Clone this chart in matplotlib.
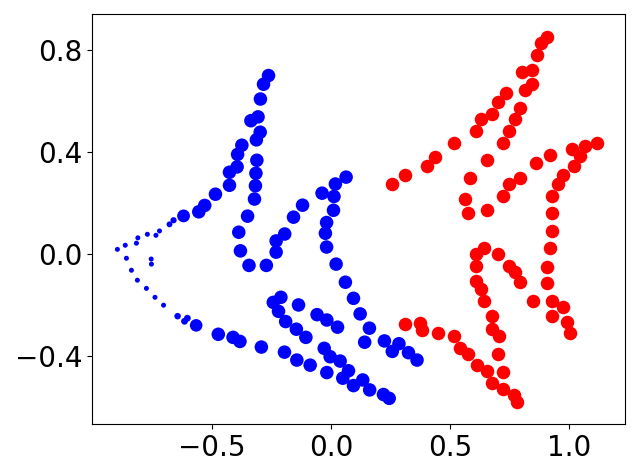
import numpy as np
import matplotlib
matplotlib.use("Agg")
import matplotlib.pyplot as plt

# blue cloud (x, y) and marker size per point
blue_x = [-0.897, -0.864, -0.817, -0.811, -0.771, -0.735, -0.720, -0.678, -0.661,
          -0.859, -0.755, -0.754, -0.838, -0.813, -0.775, -0.739, -0.703,
          -0.644, -0.615, -0.603,
          -0.619, -0.555, -0.530, -0.485, -0.426, -0.426, -0.394, -0.392, -0.374,
          -0.336, -0.306, -0.313, -0.297, -0.296, -0.283, -0.262,
          -0.311, -0.315, -0.317, -0.321, -0.350, -0.387, -0.380, -0.344, -0.271,
          -0.230, -0.230, -0.194, -0.157, -0.119,
          0.064, 0.019, -0.037, 0.013, 0.011, -0.018, -0.023, -0.018, 0.022, 0.061,
          0.095, 0.123, 0.162, 0.142, 0.225, 0.258, 0.286, 0.326, 0.362,
          -0.566, -0.473, -0.411, -0.382, -0.292, -0.195, -0.143, -0.087, -0.017,
          0.050, 0.095, 0.134, 0.163, 0.221, 0.245, 0.074, 0.039, -0.003, -0.028,
          -0.210, -0.242, -0.220, -0.190, -0.136, -0.145, -0.105, -0.058, -0.017, 0.028]
blue_y = [0.018, 0.034, 0.042, 0.063, 0.077, 0.073, 0.090, 0.116, 0.132,
          -0.017, -0.020, -0.040, -0.064, -0.103, -0.135, -0.170, -0.201,
          -0.244, -0.264, -0.252,
          0.149, 0.165, 0.190, 0.234, 0.269, 0.320, 0.341, 0.390, 0.426,
          0.522, 0.537, 0.447, 0.477, 0.607, 0.665, 0.699,
          0.367, 0.316, 0.267, 0.215, 0.148, 0.085, 0.012, -0.045, -0.045,
          0.007, 0.051, 0.078, 0.144, 0.191,
          0.301, 0.274, 0.238, 0.225, 0.171, 0.123, 0.081, 0.027, -0.040, -0.111,
          -0.174, -0.235, -0.291, -0.346, -0.341, -0.382, -0.352, -0.387, -0.416,
          -0.280, -0.315, -0.327, -0.343, -0.365, -0.385, -0.416, -0.436, -0.465,
          -0.487, -0.516, -0.494, -0.533, -0.551, -0.566, -0.458, -0.420, -0.403, -0.370,
          -0.170, -0.190, -0.225, -0.265, -0.200, -0.295, -0.327, -0.238, -0.259, -0.287]
blue_s = [13] * 17 + [22, 24, 24] + [85] + [95] * 48 + [82] + [95] * 28
blue_s[7] = 18
blue_s[8] = 20

# red cloud
red_x = [0.256, 0.312, 0.405, 0.439, 0.519, 0.611, 0.632, 0.679, 0.704, 0.737,
         0.725, 0.750, 0.773, 0.795, 0.816, 0.845, 0.804, 0.845, 0.864, 0.882, 0.908,
         0.658, 0.585, 0.564, 0.578, 0.658, 0.725, 0.750, 0.795, 0.863, 0.921,
         1.014, 1.068, 1.118, 1.047, 1.022, 0.977, 0.956, 0.931, 0.931, 0.931,
         0.921, 0.910, 0.910, 0.931, 0.977, 0.931, 0.992, 1.003, 0.851,
         0.645, 0.611, 0.702, 0.611, 0.749, 0.774, 0.795, 0.611, 0.632, 0.644,
         0.679, 0.676, 0.707, 0.704, 0.725, 0.657, 0.613, 0.578, 0.543, 0.519,
         0.452, 0.382, 0.373, 0.312, 0.676, 0.725, 0.771, 0.784]
red_y = [0.274, 0.310, 0.345, 0.378, 0.434, 0.482, 0.529, 0.548, 0.596, 0.631,
         0.434, 0.482, 0.528, 0.573, 0.643, 0.667, 0.711, 0.722, 0.779, 0.826, 0.852,
         0.369, 0.297, 0.216, 0.161, 0.173, 0.227, 0.275, 0.297, 0.356, 0.388,
         0.412, 0.424, 0.434, 0.384, 0.346, 0.310, 0.275, 0.227, 0.161, 0.090,
         0.022, -0.050, -0.115, -0.183, -0.209, -0.243, -0.268, -0.311, -0.184,
         0.025, 0.000, 0.000, -0.047, -0.047, -0.069, -0.109, -0.105, -0.137, -0.184,
         -0.242, -0.295, -0.322, -0.392, -0.462, -0.459, -0.435, -0.392, -0.367, -0.322,
         -0.310, -0.300, -0.272, -0.275, -0.507, -0.531, -0.553, -0.579]

x_ticks = [-0.5, 0.0, 0.5, 1.0]
y_ticks = [-0.4, 0.0, 0.4, 0.8]

fig = plt.figure(figsize=(6.4, 4.76), dpi=100)
ax = fig.add_subplot(111)
fig.subplots_adjust(left=0.144, right=0.977, bottom=0.109, top=0.971)

ax.scatter(blue_x, blue_y, s=blue_s, c="b", linewidths=0)
ax.scatter(red_x, red_y, s=95, c="r", linewidths=0)

ax.set_xlim(-1.003, 1.237)
ax.set_ylim(-0.667, 0.941)
ax.set_xticks(x_ticks)
ax.set_yticks(y_ticks)
ax.tick_params(labelsize=20)

fig.savefig("out.png", dpi=100)
